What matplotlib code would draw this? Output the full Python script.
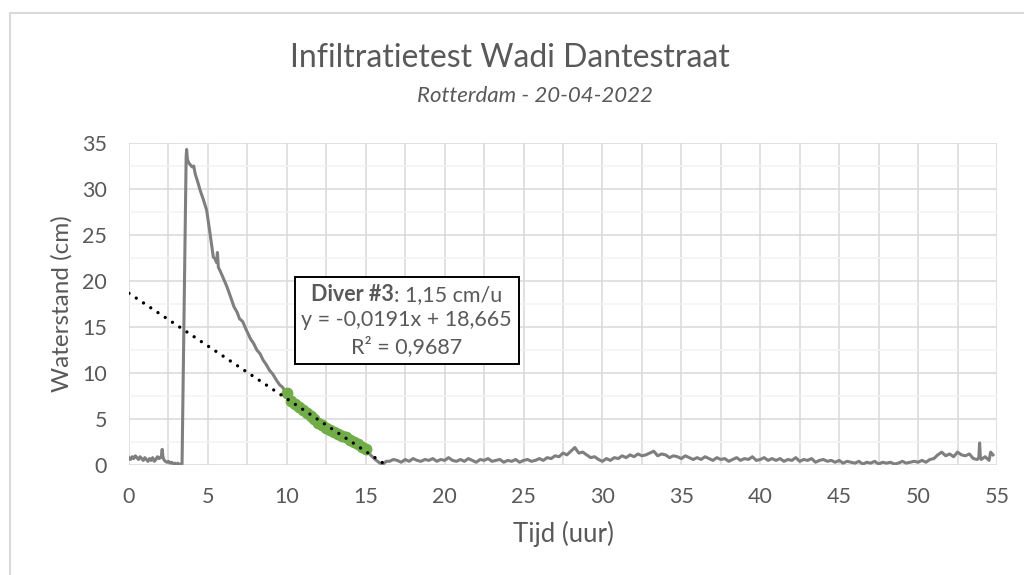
import matplotlib
matplotlib.use('Agg')
import matplotlib.pyplot as plt
from matplotlib.lines import Line2D
from matplotlib.offsetbox import TextArea, HPacker, VPacker, AnchoredOffsetbox

############## Data ##############

# Water level of the diver (time in hours, level in cm).
tijd = [0.0, 0.1, 0.2, 0.3, 0.4, 0.5, 0.6, 0.7, 0.8, 0.9, 1.0, 1.1, 1.2, 1.3,
        1.4, 1.5, 1.6, 1.7, 1.8, 1.9, 2.0, 2.05, 2.1, 2.15, 2.2, 2.3, 2.4,
        2.5, 2.6, 2.7, 2.8, 2.9, 3.0, 3.1, 3.2, 3.3, 3.36,
        3.62, 3.65, 3.7, 3.8, 3.9, 4.0, 4.1, 4.2, 4.35, 4.5, 4.7, 4.92, 5.13,
        5.34, 5.45, 5.55, 5.6, 5.66, 5.8, 5.95, 6.2, 6.45, 6.65, 6.85, 7.0,
        7.2, 7.4, 7.7, 7.9, 8.1, 8.3, 8.5, 8.7, 8.9, 9.1, 9.35, 9.55, 9.7,
        10.0, 10.3, 10.6, 10.9, 11.2, 11.5, 11.8, 12.1, 12.4, 12.7, 13.0,
        13.3, 13.6, 13.9, 14.2, 14.5, 14.8, 15.0, 15.3, 15.6, 15.9, 16.1,
        16.3,
        16.5, 16.75, 17.0, 17.25, 17.5, 17.75, 18.0, 18.25, 18.5, 18.75, 19.0,
        19.25, 19.5, 19.75, 20.0, 20.25, 20.5, 20.75,
        21.0, 21.25, 21.5, 21.75, 22.0, 22.25, 22.5, 22.75, 23.0, 23.25, 23.5,
        23.75, 24.0, 24.25, 24.5, 24.75, 25.0, 25.25, 25.5, 25.75,
        26.0, 26.25, 26.5, 26.75, 27.0, 27.25, 27.5, 27.75, 28.0, 28.25, 28.5,
        28.75, 29.0, 29.25, 29.5, 29.75, 30.0, 30.25, 30.5, 30.75,
        31.0, 31.25, 31.5, 31.75, 32.0, 32.25, 32.5, 32.75, 33.0, 33.25, 33.5,
        33.75, 34.0, 34.25, 34.5, 34.75, 35.0, 35.25, 35.5, 35.75,
        36.0, 36.25, 36.5, 36.75, 37.0, 37.25, 37.5, 37.75, 38.0, 38.25, 38.5,
        38.75, 39.0, 39.25, 39.5, 39.75, 40.0, 40.25, 40.5, 40.75,
        41.0, 41.25, 41.5, 41.75, 42.0, 42.25, 42.5, 42.75, 43.0, 43.25, 43.5,
        43.75, 44.0, 44.25, 44.5, 44.75, 45.0, 45.25, 45.5, 45.75,
        46.0, 46.25, 46.5, 46.75, 47.0, 47.25, 47.5, 47.75, 48.0, 48.25, 48.5,
        48.75, 49.0, 49.25, 49.5, 49.75, 50.0, 50.25, 50.5, 50.75,
        51.0, 51.25, 51.5, 51.75, 52.0, 52.25, 52.5, 52.75, 53.0, 53.25, 53.5,
        53.75, 53.85, 53.9, 53.95, 54.0, 54.25, 54.5, 54.6, 54.75]
waterstand = [0.8, 0.6, 0.9, 0.7, 1.0, 0.8, 0.6, 0.9, 0.7, 0.5, 0.8, 0.6, 0.4, 0.7,
              0.5, 0.8, 0.4, 0.6, 0.9, 0.7, 0.8, 1.0, 1.7, 0.9, 0.6, 0.4, 0.3,
              0.4, 0.2, 0.3, 0.1, 0.2, 0.1, 0.2, 0.0, 0.1, 0.1,
              33.5, 34.3, 33.2, 32.8, 32.6, 32.4, 32.5, 31.6, 30.8, 29.9, 28.9, 27.7, 25.2,
              22.6, 22.4, 22.0, 23.1, 21.5, 21.0, 20.4, 19.4, 18.2, 17.2, 16.6, 15.9,
              15.6, 14.8, 13.7, 13.2, 12.5, 12.1, 11.4, 10.9, 10.3, 9.9, 9.2, 8.7, 8.5,
              7.8, 7.0, 6.5, 6.1, 5.8, 5.4, 5.0, 4.6, 4.2, 3.9, 3.6,
              3.3, 3.1, 2.8, 2.6, 2.3, 2.0, 1.7, 1.1, 0.6, 0.2, 0.1,
              0.4,
              0.4, 0.6, 0.5, 0.3, 0.6, 0.4, 0.7, 0.5, 0.4, 0.6, 0.5,
              0.7, 0.4, 0.6, 0.5, 0.8, 0.5, 0.4,
              0.6, 0.4, 0.7, 0.5, 0.3, 0.6, 0.5, 0.7, 0.4, 0.5, 0.6,
              0.3, 0.5, 0.4, 0.6, 0.3, 0.5, 0.6, 0.4, 0.5,
              0.7, 0.5, 0.8, 0.7, 1.0, 0.9, 1.3, 1.1, 1.5, 1.9, 1.3,
              1.4, 1.1, 0.8, 0.9, 0.6, 0.4, 0.7, 0.5, 0.8,
              0.7, 1.0, 0.8, 1.1, 0.9, 1.2, 1.0, 1.1, 1.3, 1.5, 1.0,
              1.2, 1.1, 0.8, 1.0, 0.9, 0.7, 1.0, 0.8, 0.6,
              0.8, 0.6, 0.9, 0.7, 0.5, 0.8, 0.6, 0.7, 0.4, 0.6, 0.8,
              0.5, 0.7, 0.6, 0.9, 0.5, 0.6, 0.8, 0.5, 0.7,
              0.5, 0.7, 0.4, 0.6, 0.5, 0.8, 0.4, 0.6, 0.5, 0.7, 0.3,
              0.5, 0.6, 0.4, 0.5, 0.3, 0.5, 0.2, 0.4, 0.3,
              0.2, 0.4, 0.1, 0.3, 0.2, 0.4, 0.1, 0.3, 0.2, 0.3, 0.1,
              0.2, 0.4, 0.2, 0.3, 0.4, 0.3, 0.5, 0.3, 0.6,
              0.7, 1.1, 1.4, 1.0, 1.2, 0.9, 1.4, 1.1, 1.0, 1.2, 0.7,
              0.6, 0.8, 2.4, 0.8, 0.6, 0.9, 0.5, 1.4, 1.1]

# Points used for the linear fit (green markers).
tijd_fit = [10.0, 10.25, 10.5, 10.75, 11.0, 11.25, 11.5, 11.75, 12.0, 12.25, 12.5,
            12.75, 13.0, 13.25, 13.5, 13.75, 14.0, 14.25, 14.5, 14.75, 15.0]
waterstand_fit = [7.8, 7.0, 6.6, 6.3, 6.0, 5.6, 5.3, 5.0, 4.6, 4.3, 4.0,
                  3.8, 3.6, 3.4, 3.2, 3.0, 2.7, 2.5, 2.3, 2.0, 1.7]

# Trendline as given by Excel (x in minutes).
helling = -0.0191
intercept = 18.665
trend_tijd = [0.0, 16.2]

titel = 'Infiltratietest Wadi Dantestraat'
subtitel = 'Rotterdam - 20-04-2022'

########################################################################

plt.rcParams['font.family'] = ['Lato', 'DejaVu Sans']
grijs_tekst = '#595959'

fig = plt.figure(figsize=(10.24, 5.75), dpi=100)
ax = fig.add_axes([0.126, 0.1913, 0.8476, 0.56])

# Gridlines every 2.5 (lighter horizontal minor lines).
for x in [i * 2.5 for i in range(23)]:
  ax.axvline(x, color='#D9D9D9', lw=1.1, zorder=0)
for y in [i * 2.5 for i in range(15)]:
  kleur = '#D9D9D9' if (y % 5 == 0) else '#F2F2F2'
  ax.axhline(y, color=kleur, lw=1.1, zorder=0)

ax.plot(tijd, waterstand, color='#7F7F7F', lw=2.2, zorder=2)
ax.plot(tijd_fit, waterstand_fit, linestyle='', marker='o', markersize=7.5,
        color='#70AD47', zorder=3)

trend_y = [intercept + helling * 60 * t for t in trend_tijd]
ax.plot(trend_tijd, trend_y, color='black', lw=2.4, linestyle=(0, (0.01, 2.6)),
        dash_capstyle='round', zorder=4)

ax.set_xlim(0, 55)
ax.set_ylim(0, 35)
ax.set_xticks(range(0, 56, 5))
ax.set_yticks(range(0, 36, 5))
for s in ax.spines.values():
  s.set_visible(False)
ax.tick_params(length=0, pad=16, labelsize=15.5, colors=grijs_tekst)
ax.set_xlabel('Tijd (uur)', fontsize=18.5, color=grijs_tekst)
ax.set_ylabel('Waterstand (cm)', fontsize=17.5, color=grijs_tekst)
ax.xaxis.label.set_va('center')
ax.yaxis.label.set_va('center')
ax.xaxis.set_label_coords(0.5, -0.215)
ax.yaxis.set_label_coords(-0.078, 0.5)

fig.text(0.498, 0.899, titel, ha='center', va='center', fontsize=23, color=grijs_tekst)
fig.text(0.522, 0.833, subtitel, ha='center', va='center', fontsize=16,
         style='italic', color=grijs_tekst)

# Text box with the fit result.
stijl = dict(fontsize=15.5, color=grijs_tekst)
regel1 = HPacker(children=[TextArea('Diver #3', textprops=dict(fontweight='bold', **stijl)),
                           TextArea(': 1,15 cm/u', textprops=stijl)], sep=0, pad=0)
regel2 = TextArea('y = -0,0191x + 18,665', textprops=stijl)
regel3 = TextArea('R² = 0,9687', textprops=stijl)
blok = VPacker(children=[regel1, regel2, regel3], align='center', sep=4, pad=0)
kader = AnchoredOffsetbox(loc='center', child=blok, pad=0.5, borderpad=0,
                          frameon=True, bbox_to_anchor=(0.32, 0.45),
                          bbox_transform=ax.transAxes)
kader.patch.set_edgecolor('black')
kader.patch.set_linewidth(1.4)
kader.patch.set_boxstyle('square', pad=0)
kader.set_zorder(5)
ax.add_artist(kader)

# Chart area border (left and top, the rest is cropped).
fig.add_artist(Line2D([0.0093, 0.0093, 1.0], [0.0, 0.978, 0.978], color='#D9D9D9',
                      lw=1.5, transform=fig.transFigure))

plt.savefig('out.png', dpi=100)
